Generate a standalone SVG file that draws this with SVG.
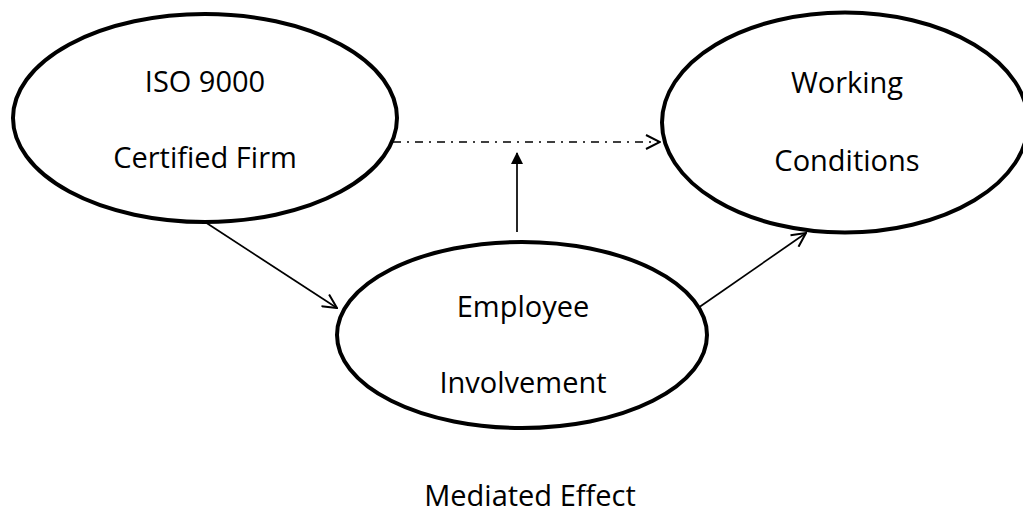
<svg xmlns="http://www.w3.org/2000/svg" width="1023" height="512" viewBox="0 0 1023 512">
<style>
.node{fill:#fff;stroke:#000;stroke-width:4}
.lbl{font-family:"Open Sans","Liberation Sans",sans-serif;font-size:29px;fill:#000;text-anchor:middle}
.conn{stroke:#000;stroke-width:1.7;fill:none}
</style>
<defs>
<marker id="open" viewBox="0 0 16 16" refX="15" refY="8" markerWidth="16" markerHeight="16" markerUnits="userSpaceOnUse" orient="auto">
<path d="M1,1 L15,8 L1,15" fill="none" stroke="#000" stroke-width="2"/>
</marker>
<marker id="solid" viewBox="0 0 12 12" refX="11" refY="6" markerWidth="12" markerHeight="12" markerUnits="userSpaceOnUse" orient="auto">
<path d="M0,0 L12,6 L0,12 Z" fill="#000"/>
</marker>
</defs>
<rect width="1023" height="512" fill="#fff"/>
<g id="connectors">
<line class="conn" x1="393" y1="142" x2="660" y2="142" stroke-dasharray="8 6 2 6" marker-end="url(#open)"/>
<line class="conn" x1="517" y1="232" x2="517" y2="153" marker-end="url(#solid)"/>
<line class="conn" x1="205" y1="222" x2="337" y2="308" marker-end="url(#open)"/>
<line class="conn" x1="698" y1="308" x2="806" y2="233" marker-end="url(#open)"/>
</g>
<g id="iso">
<ellipse class="node" cx="205" cy="118" rx="192" ry="104"/>
<text class="lbl" x="205" y="92">ISO 9000</text>
<text class="lbl" x="205" y="168">Certified Firm</text>
</g>
<g id="working">
<ellipse class="node" cx="845" cy="122.5" rx="183" ry="110"/>
<text class="lbl" x="847" y="93">Working</text>
<text class="lbl" x="847" y="171">Conditions</text>
</g>
<g id="employee">
<ellipse class="node" cx="522" cy="335" rx="185" ry="93"/>
<text class="lbl" x="523" y="317">Employee</text>
<text class="lbl" x="523" y="393">Involvement</text>
</g>
<text class="lbl" x="530" y="506">Mediated Effect</text>
</svg>
